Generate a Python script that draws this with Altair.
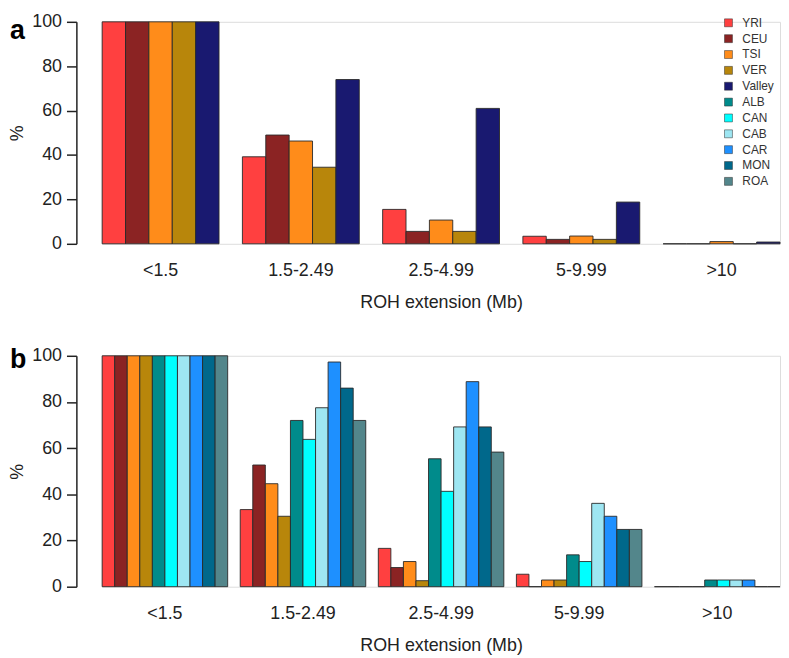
import altair as alt
import pandas as pd

cats = ["<1.5", "1.5-2.49", "2.5-4.99", "5-9.99", ">10"]
all_pops = ["YRI", "CEU", "TSI", "VER", "Valley", "ALB", "CAN", "CAB", "CAR", "MON", "ROA"]
colors = ["#FF4040", "#8B2323", "#FF8C1A", "#B8860B", "#191970", "#008B8B",
          "#00FFFF", "#9EE6F2", "#1E90FF", "#00688B", "#53868B"]

# Panel a
pops_a = ["YRI", "CEU", "TSI", "VER", "Valley"]
a_YRI = [100, 39.2, 15.5, 3.4, 0]
a_CEU = [100, 49.0, 5.6, 2.0, 0]
a_TSI = [100, 46.3, 10.7, 3.5, 1.0]
a_VER = [100, 34.5, 5.6, 2.0, 0]
a_Valley = [100, 74.0, 61.0, 18.8, 0.8]

# Panel b
pops_b = ["YRI", "CEU", "TSI", "VER", "ALB", "CAN", "CAB", "CAR", "MON", "ROA"]
b_YRI = [100, 33.4, 16.6, 5.4, 0]
b_CEU = [100, 52.7, 8.3, 0, 0]
b_TSI = [100, 44.6, 10.9, 2.9, 0]
b_VER = [100, 30.5, 2.6, 2.9, 0]
b_ALB = [100, 72.0, 55.4, 13.8, 2.9]
b_CAN = [100, 63.8, 41.3, 10.9, 2.9]
b_CAB = [100, 77.5, 69.2, 36.1, 2.9]
b_CAR = [100, 97.3, 88.8, 30.5, 2.9]
b_MON = [100, 86.0, 69.2, 24.8, 0]
b_ROA = [100, 72.0, 58.3, 24.8, 0]

series_a = {"YRI": a_YRI, "CEU": a_CEU, "TSI": a_TSI, "VER": a_VER, "Valley": a_Valley}
series_b = {"YRI": b_YRI, "CEU": b_CEU, "TSI": b_TSI, "VER": b_VER, "ALB": b_ALB,
            "CAN": b_CAN, "CAB": b_CAB, "CAR": b_CAR, "MON": b_MON, "ROA": b_ROA}


def to_df(series):
    rows = []
    for p, vals in series.items():
        for c, v in zip(cats, vals):
            rows.append({"cat": c, "pop": p, "value": v})
    return pd.DataFrame(rows)


TXT = "#222222"


def panel(df, pops, letter, letter_y, pad_inner, legend, height):
    bars = alt.Chart(df).mark_bar(stroke="#2a2a2a", strokeWidth=0.9).encode(
        x=alt.X("cat:N", sort=cats,
                scale=alt.Scale(paddingInner=pad_inner, paddingOuter=0),
                axis=alt.Axis(title="ROH extension (Mb)", labelAngle=0, domain=False,
                              ticks=False, tickSize=0, labelPadding=18, titlePadding=14,
                              labelFontSize=18, titleFontSize=18, titleFontWeight="normal",
                              labelColor=TXT, titleColor=TXT)),
        xOffset=alt.XOffset("pop:N", sort=pops,
                            scale=alt.Scale(paddingInner=0, paddingOuter=0)),
        y=alt.Y("value:Q", scale=alt.Scale(domain=[0, 100], nice=False),
                axis=alt.Axis(title="%", values=[0, 20, 40, 60, 80, 100], offset=26,
                              grid=False, tickSize=10, labelPadding=5, titlePadding=5,
                              labelFontSize=18, titleFontSize=18, titleFontWeight="normal",
                              domainColor=TXT, tickColor=TXT, domainWidth=1.5, tickWidth=1.5,
                              labelColor=TXT, titleColor=TXT)),
        color=alt.Color("pop:N", scale=alt.Scale(domain=all_pops, range=colors), legend=legend),
    )
    txt = alt.Chart(pd.DataFrame({"t": [letter]})).mark_text(
        fontSize=27, fontWeight="bold", align="left", baseline="top", color="#000000"
    ).encode(text="t:N", x=alt.value(-93), y=alt.value(letter_y))
    return alt.layer(bars, txt).properties(width=684, height=height)


legend_a = alt.Legend(title=None, orient="none", legendX=626, legendY=-5,
                      symbolType="square", symbolSize=64, symbolStrokeWidth=0.5,
                      labelFontSize=12, labelColor="#333333", labelOffset=8,
                      rowPadding=4, padding=0)

chart_a = panel(to_df(series_a), pops_a, "a", -4, 1 / 6, legend_a, 224)
chart_b = panel(to_df(series_b), pops_b, "b", -9, 1 / 11, None, 233)

chart = alt.vconcat(chart_a, chart_b, spacing=33).resolve_scale(
    color="independent", x="independent", y="independent", xOffset="independent"
).properties(padding={"left": 0, "top": 1, "right": 0, "bottom": 0}).configure_view(
    stroke=None
).configure(font="Liberation Sans")

chart.save("out.html", embed_options={"renderer": "svg", "actions": False})
